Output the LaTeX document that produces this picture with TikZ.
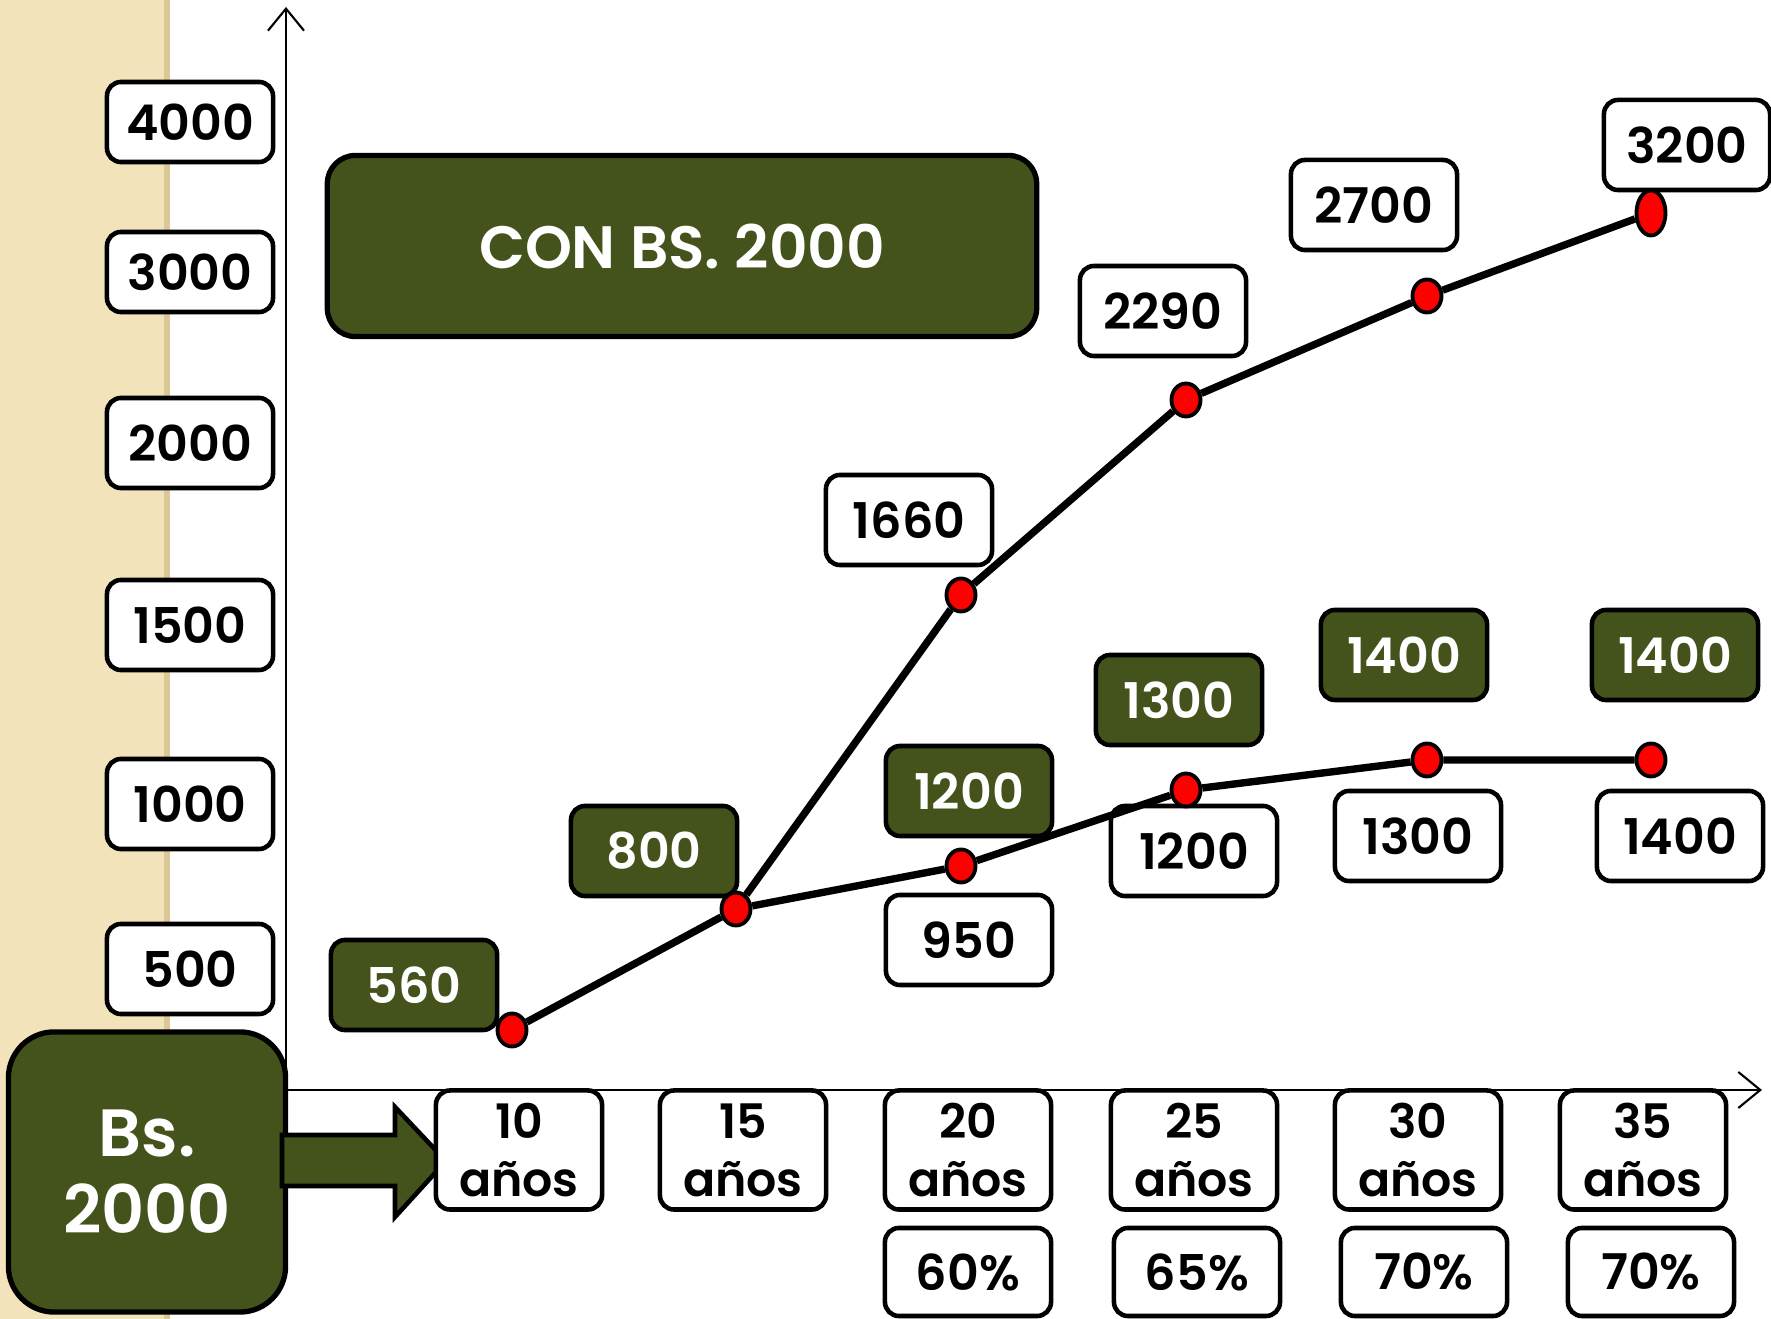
\documentclass[tikz,border=0pt]{standalone}
\usepackage{fontspec}
\setmainfont{Poppins}[BoldFont=* SemiBold]
\usetikzlibrary{arrows.meta, positioning, shapes.geometric}
\definecolor{olivebox}{HTML}{43531B}
\definecolor{beige}{HTML}{F3E3BA}
\definecolor{beigeedge}{HTML}{DCC896}
\tikzset{
    every node/.style={font=\bfseries\fontsize{14}{16}\selectfont},
    whitebox/.style={draw=black, fill=white, line width=1.3pt, rounded corners=4pt, minimum width=1.66cm, minimum height=0.9cm, inner sep=0pt, align=center},
    greenbox/.style={whitebox, fill=olivebox, text=white},
    agebox/.style={whitebox, minimum height=1.19cm, font=\bfseries\fontsize{13.5}{16.5}\selectfont},
    dot/.style={ellipse, draw=black, fill=red, line width=1.1pt, minimum width=0.29cm, minimum height=0.33cm, inner sep=0pt},
    curve/.style={line width=2.1pt},
    axis/.style={line width=0.6pt, -{Straight Barb[length=2.2mm, width=3.6mm]}},
}

\begin{document}
\begin{tikzpicture}[x=0.01cm, y=-0.01cm]
  \useasboundingbox (0,0) rectangle (1771,1319);
  % margin of the slide
  \fill[beige] (0,0) rectangle (170,1319);
  \fill[beigeedge] (164,0) rectangle (170,1319);

  % axes
  \coordinate (origin) at (286,1090);
  \coordinate (ytop) at (286,7);
  \coordinate (xend) at (1762,1090);
  \draw[axis] (origin) -- (ytop);
  \draw[axis] (origin) -- (xend);

  \node[greenbox, minimum width=7.09cm, minimum height=1.81cm, rounded corners=8pt, line width=1.5pt, font=\bfseries\fontsize{17}{20}\selectfont] (title) at (682,246) {CON BS. 2000};
  \node[greenbox, minimum width=2.77cm, minimum height=2.8cm, rounded corners=13pt, line width=1.5pt, font=\bfseries\fontsize{19}{22}\selectfont] (bs) at (147,1172) {Bs.\\2000};
  \draw[fill=olivebox, line width=1.3pt] (282,1135) -- (395,1135) -- (395,1107) -- (446,1161)
    -- (395,1217) -- (395,1186) -- (282,1186) -- cycle;

  % y scale
  \node[whitebox, minimum height=0.8cm] (l4000) at (190,122) {4000};
  \node[whitebox, minimum height=0.8cm] (l3000) at (190,272) {3000};
  \node[whitebox] (l2000) at (190,443) {2000};
  \node[whitebox] (l1500) at (190,625) {1500};
  \node[whitebox] (l1000) at (190,804) {1000};
  \node[whitebox] (l500) at (190,969) {500};

  % years and percentages
  \foreach \yr/\x in {10/519,15/743,20/968,25/1194,30/1418,35/1643}
    \node[agebox] (a\yr) at (\x,1150) {\yr\\años};
  \foreach \yr/\x/\pc in {20/968/60,25/1197/65,30/1424/70,35/1651/70}
    \node[whitebox, minimum height=0.88cm] (p\yr) at (\x,1272) {\pc\%};

  % values
  \node[greenbox] (g560) at (414,985) {560};
  \node[greenbox] (g800) at (654,851) {800};
  \node[greenbox] (g1200) at (969,791) {1200};
  \node[greenbox] (g1300) at (1179,700) {1300};
  \node[greenbox] (g1400a) at (1404,655) {1400};
  \node[greenbox] (g1400b) at (1675,655) {1400};
  \node[whitebox] (w950) at (969,940) {950};
  \node[whitebox] (w1200) at (1194,851) {1200};
  \node[whitebox] (w1300) at (1418,836) {1300};
  \node[whitebox] (w1400) at (1680,836) {1400};
  \node[whitebox] (w1660) at (909,520) {1660};
  \node[whitebox] (w2290) at (1163,311) {2290};
  \node[whitebox] (w2700) at (1374,205) {2700};
  \node[whitebox] (w3200) at (1687,145) {3200};

  % points
  \node[dot] (d10) at (512,1030) {};
  \node[dot] (d15) at (736,909) {};
  \node[dot] (d20) at (961,866) {};
  \node[dot] (d25) at (1186,790) {};
  \node[dot] (d30) at (1427,760) {};
  \node[dot] (d35) at (1651,760) {};
  \node[dot] (u20) at (961,595) {};
  \node[dot] (u25) at (1186,400) {};
  \node[dot] (u30) at (1427,296) {};
  \node[dot, minimum height=0.45cm] (u35) at (1651,213) {};

  \draw[curve] (d10) -- (d15) -- (d20) -- (d25) -- (d30) -- (d35);
  \draw[curve] (d15) -- (u20) -- (u25) -- (u30) -- (u35);
\end{tikzpicture}
\end{document}
